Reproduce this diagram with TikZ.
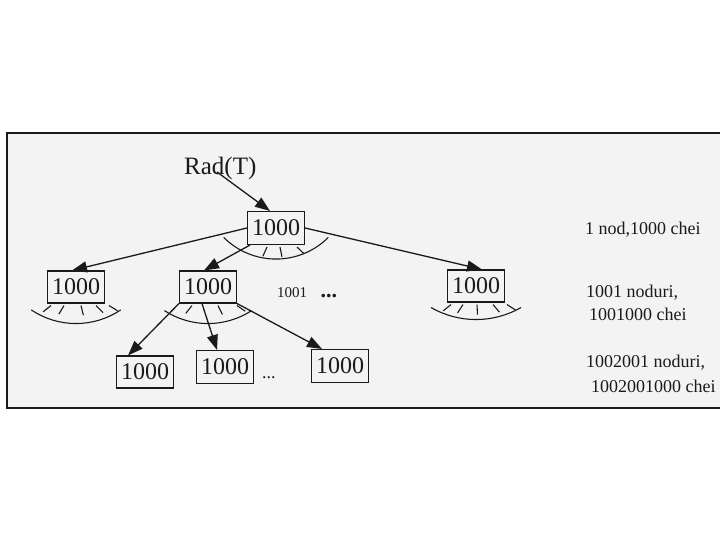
\documentclass[tikz,border=0pt]{standalone}
\usepackage{fontspec}
\setmainfont{Liberation Serif}
\usetikzlibrary{arrows.meta,positioning}
\definecolor{paper}{HTML}{F3F3F3}
\definecolor{ink}{HTML}{1A1A1A}
\tikzset{
  keybox/.style={draw=ink, line width=1.1pt, minimum width=57pt, minimum height=32pt,
                 inner sep=0pt, font=\fontsize{24}{26}\selectfont, text=ink},
  ar/.style={-{Triangle[length=15pt,width=11pt]}, line width=1.3pt, draw=ink},
  fanline/.style={line width=1.1pt, draw=ink},
  note/.style={font=\fontsize{18}{20}\selectfont, text=ink, inner sep=0pt, anchor=base west},
}
% fan of child pointers under a node: node, radius, drop below south, half angle, tick offsets
\newcommand{\fan}[5]{%
  \begin{scope}[shift={(#1.south)}]
    \foreach \t in {#5} {
      \pgfmathsetmacro\tang{atan2(-20,\t)}
      \draw[fanline] (\t,-2) -- ++(\tang:10);
    }
    \begin{scope}[shift={(0,{#2-#3})}]
      \draw[fanline] (270-#4:#2) arc[start angle=270-#4, end angle=270+#4, radius=#2];
    \end{scope}
  \end{scope}}

\begin{document}
\begin{tikzpicture}[x=1pt,y=1pt]
\useasboundingbox (0,0) rectangle (720,-540);
\fill[paper] (7,-133) rectangle (720,-408);
\draw[line width=1.4pt, ink] (720,-133) -- (7,-133) -- (7,-408) -- (720,-408);

% tree levels
\node[keybox, minimum height=33pt] (root) at (276,-228) {1000};
\node[keybox] (lc) at (76,-287) {1000};
\node[keybox] (mc) at (208,-287) {1000};
\node[keybox] (rc) at (476,-286) {1000};
\node[keybox] (g1) at (145,-372) {1000};
\node[keybox, minimum height=33pt] (g2) at (225,-367) {1000};
\node[keybox, minimum height=33pt] (g3) at (340,-366) {1000};

\node[font=\fontsize{25}{28}\selectfont, text=ink, inner sep=0pt, anchor=base west]
  (rad) at (184,-175) {Rad(T)};
\coordinate (radfoot) at (217,-172);

\draw[ar] (radfoot) -- ([xshift=-6pt]root.north);
\draw[ar] (root.west) -- ([xshift=-4pt]lc.north);
\draw[ar] ([xshift=3pt]root.south west) -- ([xshift=-4pt]mc.north);
\draw[ar] (root.east) -- ([xshift=6pt]rc.north);
\draw[ar] (mc.south west) -- ([xshift=-17pt]g1.north);
\draw[ar] ([xshift=-6pt]mc.south) -- ([xshift=-8pt]g2.north);
\draw[ar] (mc.south east) -- ([xshift=-18pt]g3.north);

\fan{root}{74}{14}{45}{-9,4,21}
\fan{lc}{80}{20}{34}{-25,-12,5,20,33}
\fan{mc}{80}{20}{33}{-16,10,29}
\fan{rc}{90}{17}{30}{-25,-13,1,17,31}

\node[font=\fontsize{15}{17}\selectfont, text=ink, inner sep=0pt, anchor=base west]
  (more1) at (277,-297) {1001\hspace{0.9em}\textbf{\fontsize{22}{22}\selectfont...}};
\node[note] (more2) at (262,-378) {...};

% counts per level
\node[note] (lv1) at (585,-235) {1 nod,1000 chei};
\node[note] (lv2a) at (586,-297) {1001 noduri,};
\node[note] (lv2b) at (589,-320) {1001000 chei};
\node[note] (lv3a) at (586,-367) {1002001 noduri,};
\node[note] (lv3b) at (591,-392) {1002001000 chei};
\end{tikzpicture}
\end{document}
